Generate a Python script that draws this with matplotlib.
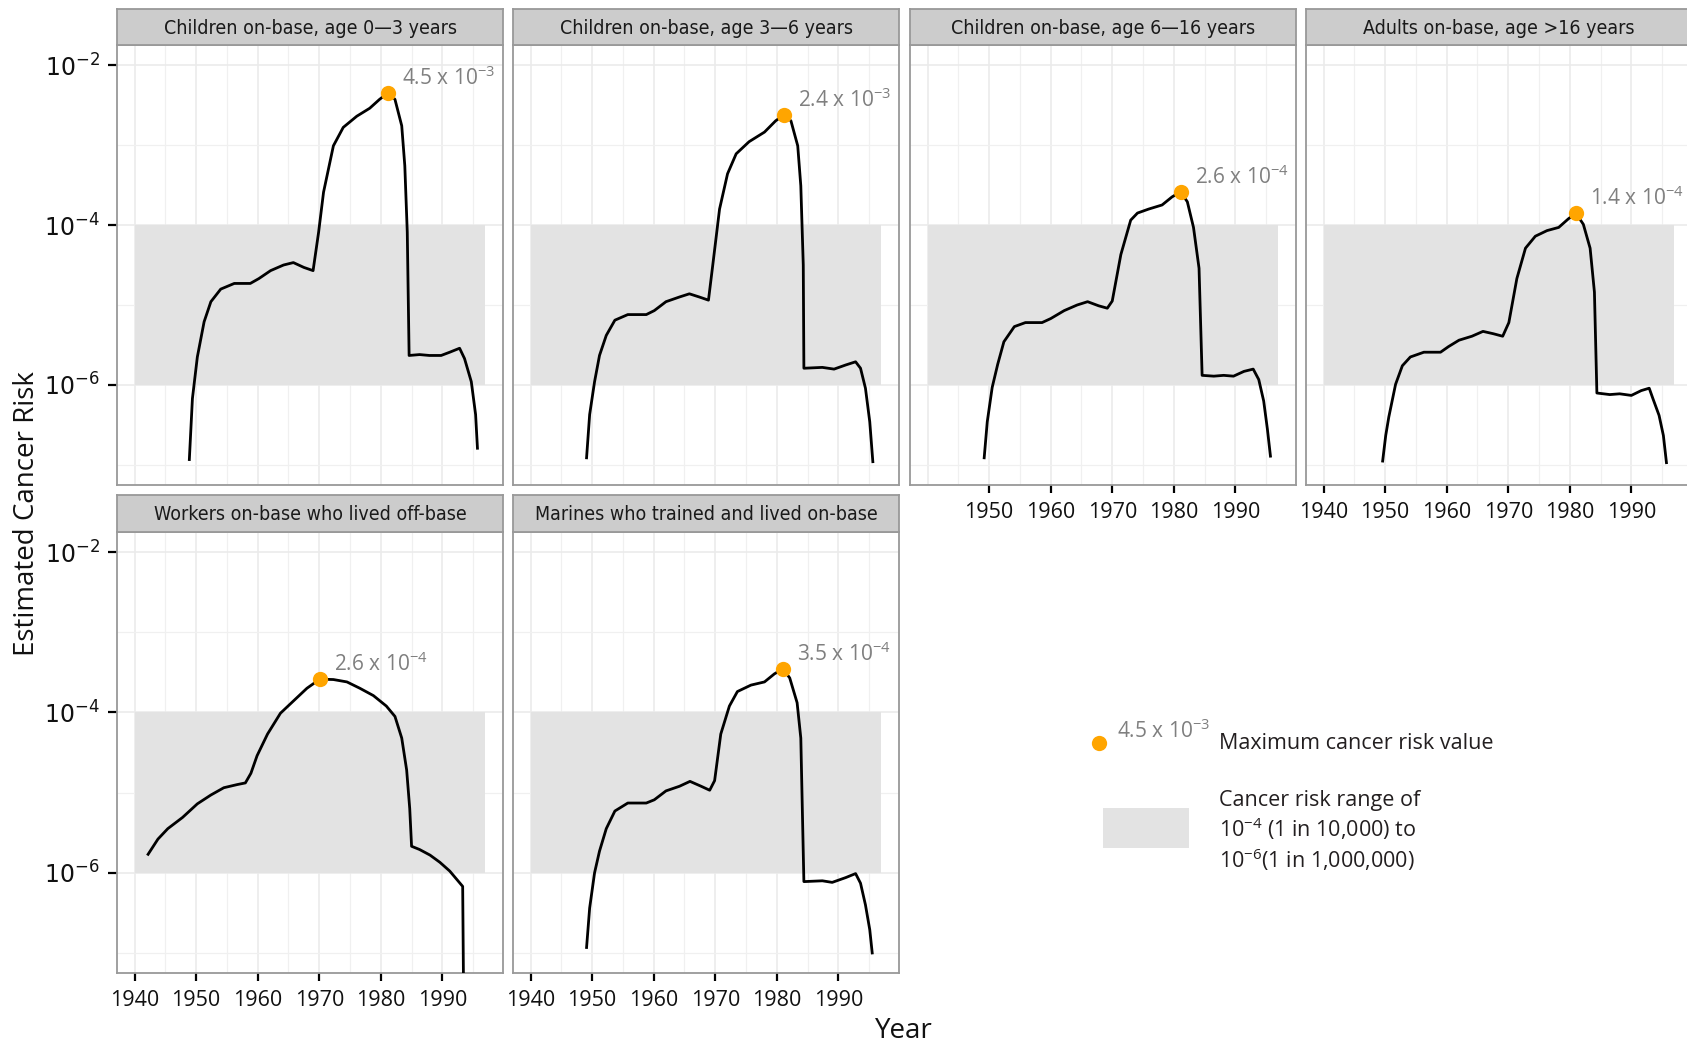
import matplotlib
matplotlib.use("Agg")
import os
import matplotlib.pyplot as plt
import matplotlib.font_manager as fm
from matplotlib.patches import Rectangle
from matplotlib.ticker import FixedLocator, FixedFormatter, NullFormatter

# figure size in pixels (dpi 100)
W, H = 1687, 1045

PANEL_TITLES = [
    "Children on-base, age 0\u20143 years",
    "Children on-base, age 3\u20146 years",
    "Children on-base, age 6\u201416 years",
    "Adults on-base, age >16 years",
    "Workers on-base who lived off-base",
    "Marines who trained and lived on-base",
]

# values
YEARS_0_3 = [1948.9, 1949.4, 1950.2, 1951.3, 1952.4, 1954.0, 1956.2, 1958.8, 1960.2, 1962.1,
             1964.2, 1965.8, 1967.5, 1969.0, 1969.9, 1970.7, 1972.3, 1973.9, 1976.1, 1978.2,
             1979.8, 1981.2, 1982.3, 1983.4, 1983.9, 1984.3, 1984.6, 1986.3, 1987.9, 1989.8,
             1991.2, 1992.8, 1993.6, 1994.7, 1995.4, 1995.7]
RISK_0_3 = [1.17e-7, 6.76e-7, 2.24e-6, 6.17e-6, 1.10e-5, 1.58e-5, 1.86e-5, 1.86e-5, 2.14e-5, 2.69e-5,
            3.16e-5, 3.39e-5, 2.95e-5, 2.69e-5, 8.13e-5, 2.57e-4, 9.77e-4, 1.66e-3, 2.29e-3, 2.88e-3,
            3.72e-3, 4.5e-3, 3.72e-3, 1.74e-3, 5.50e-4, 8.13e-5, 2.34e-6, 2.40e-6, 2.34e-6, 2.34e-6,
            2.57e-6, 2.88e-6, 2.14e-6, 1.10e-6, 4.27e-7, 1.62e-7]

YEARS_3_6 = [1949.1, 1949.6, 1950.4, 1951.2, 1952.3, 1953.7, 1955.8, 1958.8, 1960.1, 1962.0,
             1964.2, 1965.8, 1967.4, 1968.9, 1969.6, 1970.7, 1972.0, 1973.4, 1975.5, 1978.0,
             1979.8, 1981.2, 1982.3, 1983.4, 1983.9, 1984.3, 1984.4, 1987.4, 1989.3, 1991.2,
             1992.8, 1993.6, 1994.4, 1995.1, 1995.6]
RISK_3_6 = [1.23e-7, 4.27e-7, 1.10e-6, 2.34e-6, 4.17e-6, 6.46e-6, 7.59e-6, 7.59e-6, 8.51e-6, 1.10e-5,
            1.26e-5, 1.38e-5, 1.26e-5, 1.15e-5, 3.16e-5, 1.58e-4, 4.37e-4, 7.76e-4, 1.10e-3, 1.45e-3,
            2.00e-3, 2.4e-3, 2.00e-3, 9.77e-4, 3.09e-4, 3.16e-5, 1.62e-6, 1.66e-6, 1.58e-6, 1.78e-6,
            1.95e-6, 1.62e-6, 9.12e-7, 3.47e-7, 1.10e-7]

YEARS_6_16 = [1949.2, 1949.7, 1950.5, 1951.4, 1952.4, 1954.1, 1955.9, 1958.6, 1960.0, 1962.2,
              1964.3, 1966.0, 1967.8, 1969.2, 1970.0, 1971.4, 1973.0, 1974.1, 1975.9, 1978.1,
              1979.7, 1981.1, 1982.2, 1983.2, 1984.1, 1984.6, 1986.5, 1988.1, 1989.7, 1991.4,
              1992.9, 1993.8, 1994.6, 1995.2, 1995.7]
RISK_6_16 = [1.23e-7, 3.47e-7, 9.33e-7, 1.82e-6, 3.47e-6, 5.37e-6, 6.03e-6, 6.03e-6, 6.76e-6, 8.51e-6,
             1.00e-5, 1.10e-5, 9.77e-6, 9.12e-6, 1.12e-5, 4.27e-5, 1.15e-4, 1.41e-4, 1.58e-4, 1.78e-4,
             2.24e-4, 2.6e-4, 1.95e-4, 9.33e-5, 2.88e-5, 1.32e-6, 1.29e-6, 1.32e-6, 1.29e-6, 1.48e-6,
             1.58e-6, 1.17e-6, 6.31e-7, 2.82e-7, 1.29e-7]

YEARS_ADULT = [1949.6, 1950.1, 1950.6, 1951.7, 1952.8, 1954.1, 1956.3, 1959.0, 1960.3, 1962.0,
               1964.1, 1965.9, 1967.6, 1969.1, 1970.1, 1971.4, 1972.8, 1974.4, 1976.3, 1978.2,
               1979.8, 1981.0, 1982.2, 1983.3, 1984.0, 1984.4, 1986.5, 1988.1, 1990.0, 1991.6,
               1992.9, 1993.5, 1994.5, 1995.2, 1995.7]
RISK_ADULT = [1.12e-7, 2.34e-7, 3.98e-7, 1.02e-6, 1.74e-6, 2.24e-6, 2.57e-6, 2.57e-6, 3.02e-6, 3.63e-6,
              4.07e-6, 4.68e-6, 4.37e-6, 4.07e-6, 6.03e-6, 2.14e-5, 5.13e-5, 7.24e-5, 8.51e-5, 9.33e-5,
              1.20e-4, 1.4e-4, 1.02e-4, 5.13e-5, 1.45e-5, 7.94e-7, 7.59e-7, 7.76e-7, 7.41e-7, 8.51e-7,
              9.12e-7, 6.76e-7, 4.17e-7, 2.34e-7, 1.07e-7]

YEARS_WORKERS = [1942.2, 1943.8, 1945.4, 1947.8, 1950.2, 1952.4, 1954.5, 1956.7, 1958.0, 1958.9,
                 1959.9, 1961.6, 1963.7, 1965.9, 1968.0, 1970.1, 1972.3, 1974.5, 1976.6, 1978.8,
                 1980.9, 1982.3, 1983.4, 1984.2, 1984.7, 1985.0, 1986.3, 1988.0, 1989.6, 1991.2,
                 1993.3, 1993.5]
RISK_WORKERS = [1.70e-6, 2.63e-6, 3.55e-6, 4.90e-6, 7.24e-6, 9.33e-6, 1.15e-5, 1.26e-5, 1.32e-5, 1.74e-5,
                2.88e-5, 5.37e-5, 9.77e-5, 1.41e-4, 2.00e-4, 2.6e-4, 2.57e-4, 2.40e-4, 2.00e-4, 1.62e-4,
                1.20e-4, 8.91e-5, 4.79e-5, 1.91e-5, 6.31e-6, 2.14e-6, 1.95e-6, 1.66e-6, 1.35e-6, 1.05e-6,
                6.76e-7, 1e-8]

YEARS_MARINES = [1949.1, 1949.6, 1950.4, 1951.2, 1952.3, 1953.7, 1955.8, 1958.8, 1960.1, 1962.0,
                 1964.2, 1965.9, 1967.7, 1969.1, 1969.9, 1970.9, 1972.3, 1973.6, 1975.8, 1978.0,
                 1979.6, 1981.0, 1982.1, 1983.3, 1983.9, 1984.4, 1987.4, 1989.0, 1991.2, 1992.8,
                 1993.6, 1994.4, 1995.1, 1995.5]
RISK_MARINES = [1.17e-7, 3.63e-7, 1.00e-6, 1.86e-6, 3.55e-6, 5.89e-6, 7.41e-6, 7.41e-6, 8.13e-6, 1.05e-5,
                1.20e-5, 1.38e-5, 1.20e-5, 1.07e-5, 1.41e-5, 5.37e-5, 1.20e-4, 1.82e-4, 2.19e-4, 2.40e-4,
                3.02e-4, 3.5e-4, 2.69e-4, 1.32e-4, 4.79e-5, 7.76e-7, 7.94e-7, 7.59e-7, 8.71e-7, 9.77e-7,
                7.41e-7, 3.98e-7, 1.95e-7, 1.00e-7]

SERIES_YEARS = [YEARS_0_3, YEARS_3_6, YEARS_6_16, YEARS_ADULT, YEARS_WORKERS, YEARS_MARINES]
SERIES_RISK = [RISK_0_3, RISK_3_6, RISK_6_16, RISK_ADULT, RISK_WORKERS, RISK_MARINES]

PEAK_YEARS = [1981.2, 1981.2, 1981.1, 1981.0, 1970.1, 1981.0]
PEAK_RISK = [4.5e-3, 2.4e-3, 2.6e-4, 1.4e-4, 2.6e-4, 3.5e-4]
PEAK_LABELS = ["4.5 x 10$^{-3}$", "2.4 x 10$^{-3}$", "2.6 x 10$^{-4}$",
               "1.4 x 10$^{-4}$", "2.6 x 10$^{-4}$", "3.5 x 10$^{-4}$"]

RANGE_YEARS = [1940, 1997]
RANGE_LOW, RANGE_HIGH = 1e-6, 1e-4

X_TICKS = [1940, 1950, 1960, 1970, 1980, 1990]
X_MINOR = [1945, 1955, 1965, 1975, 1985, 1995]
Y_TICKS = [1e-6, 1e-4, 1e-2]
Y_MINOR = [1e-7, 1e-5, 1e-3]
Y_LABELS = ["10$^{-6}$", "10$^{-4}$", "10$^{-2}$"]

plt.rcParams["font.family"] = "Open Sans"
plt.rcParams["mathtext.fontset"] = "custom"
plt.rcParams["mathtext.rm"] = "Open Sans"
plt.rcParams["mathtext.default"] = "regular"


def find_narrow_font():
    """Look for a condensed regular face for the facet strips."""
    best = None
    for f in fm.fontManager.ttflist:
        base = os.path.basename(f.fname).lower()
        if "bold" in base or "italic" in base or "oblique" in base:
            continue
        if "liberationsansnarrow-regular" in base:
            return fm.FontProperties(fname=f.fname), 15.5
        if "dejavusanscondensed.ttf" == base and best is None:
            best = (fm.FontProperties(fname=f.fname), 14)
        elif ("condensed" in base or "narrow" in base) and best is None:
            best = (fm.FontProperties(fname=f.fname), 14)
    if best:
        return best
    return fm.FontProperties(family="Roboto"), 13


strip_prop, strip_size = find_narrow_font()
strip_prop.set_size(strip_size)

ORANGE = "#ffa500"
BAND = "#e3e3e3"
FRAME = "#999999"

fig = plt.figure(figsize=(W / 100, H / 100), dpi=100)


def px_rect(left, top, width, height):
    return [left / W, 1 - (top + height) / H, width / W, height / H]


col_left = [117, 513, 910, 1306]
panel_w = 386
# (panel top, panel bottom, strip top) per row
rows = [(45, 485, 9), (532, 973, 495)]
slots = [(0, 0), (0, 1), (0, 2), (0, 3), (1, 0), (1, 1)]
show_x = [None, None, X_TICKS[1:], X_TICKS, X_TICKS, X_TICKS]

for i, (r, c) in enumerate(slots):
    top, bottom, strip_top = rows[r]
    ax = fig.add_axes(px_rect(col_left[c], top, panel_w, bottom - top))
    ax.set_yscale("log")
    ax.set_xlim(1937.15, 1999.85)
    ax.set_ylim(10 ** -7.25, 10 ** -1.75)
    ax.set_axisbelow(True)

    ax.fill_between(RANGE_YEARS, RANGE_LOW, RANGE_HIGH, color=BAND, lw=0, zorder=1)
    ax.plot(SERIES_YEARS[i], SERIES_RISK[i], color="black", lw=2.0, zorder=3)
    ax.plot([PEAK_YEARS[i]], [PEAK_RISK[i]], "o", color=ORANGE, ms=11, mec="none", zorder=4)
    ax.annotate(PEAK_LABELS[i], (PEAK_YEARS[i], PEAK_RISK[i]), xytext=(14, 8),
                textcoords="offset pixels", color="#7f7f7f", fontsize=15,
                ha="left", va="baseline", annotation_clip=False)

    ax.xaxis.set_major_locator(FixedLocator(X_TICKS))
    ax.xaxis.set_minor_locator(FixedLocator(X_MINOR))
    ax.yaxis.set_major_locator(FixedLocator(Y_TICKS))
    ax.yaxis.set_minor_locator(FixedLocator(Y_MINOR))
    ax.yaxis.set_minor_formatter(NullFormatter())
    ax.grid(which="major", color="#ebebeb", lw=1.2)
    ax.grid(which="minor", color="#f0f0f0", lw=0.9)
    ax.tick_params(which="minor", length=0)

    for sp in ax.spines.values():
        sp.set_color(FRAME)
        sp.set_linewidth(1.3)

    # x ticks only on the outer panels
    if show_x[i] is None:
        ax.tick_params(axis="x", which="major", length=0, labelbottom=False)
    else:
        ax.xaxis.set_major_formatter(FixedFormatter(
            [str(t) if t in show_x[i] else "" for t in X_TICKS]))
        ax.tick_params(axis="x", which="major", length=6, width=1.6, color="black",
                       labelsize=15.5, pad=6, labelcolor="#111111")
        if len(show_x[i]) < len(X_TICKS):
            ax.xaxis.get_major_ticks()[0].tick1line.set_visible(False)

    if c == 0:
        ax.yaxis.set_major_formatter(FixedFormatter(Y_LABELS))
        ax.tick_params(axis="y", which="major", length=6.5, width=1.6, color="black",
                       labelsize=17, pad=6, labelcolor="#111111")
        for lbl in ax.get_yticklabels():
            lbl.set_math_fontfamily("dejavusans")
            lbl.set_family("DejaVu Sans")
    else:
        ax.tick_params(axis="y", which="major", length=0, labelleft=False)

    # facet strip
    sax = fig.add_axes(px_rect(col_left[c], strip_top, panel_w, top - strip_top))
    sax.set_facecolor("#cccccc")
    sax.set_xticks([])
    sax.set_yticks([])
    for sp in sax.spines.values():
        sp.set_color(FRAME)
        sp.set_linewidth(1.3)
    sax.text(0.5, 0.47, PANEL_TITLES[i], transform=sax.transAxes, ha="center", va="center",
             fontproperties=strip_prop, color="#1a1a1a")

fig.text(27 / W, 1 - 514 / H, "Estimated Cancer Risk", rotation=90, ha="center",
         va="center", fontsize=20, color="#111111")
fig.text(904 / W, 1 - 1031 / H, "Year", ha="center", va="center", fontsize=20,
         color="#111111")

# hand-made legend on an overlay in pixel units
lax = fig.add_axes([0, 0, 1, 1])
lax.set_xlim(0, W)
lax.set_ylim(H, 0)
lax.axis("off")
lax.plot([1099], [743], "o", color=ORANGE, ms=11, mec="none")
lax.text(1117, 738, PEAK_LABELS[0], color="#7f7f7f", fontsize=15, va="baseline")
lax.text(1219, 749, "Maximum cancer risk value", color="#231f20", fontsize=15.5,
         va="baseline")
lax.add_patch(Rectangle((1103, 808), 86, 40, color=BAND, lw=0))
legend_lines = ["Cancer risk range of", "10$^{-4}$ (1 in 10,000) to", "10$^{-6}$(1 in 1,000,000)"]
for k, line in enumerate(legend_lines):
    lax.text(1219, 806 + 31 * k, line, color="#231f20", fontsize=15.5, va="baseline")

fig.savefig("out.png", dpi=100, facecolor="white")
